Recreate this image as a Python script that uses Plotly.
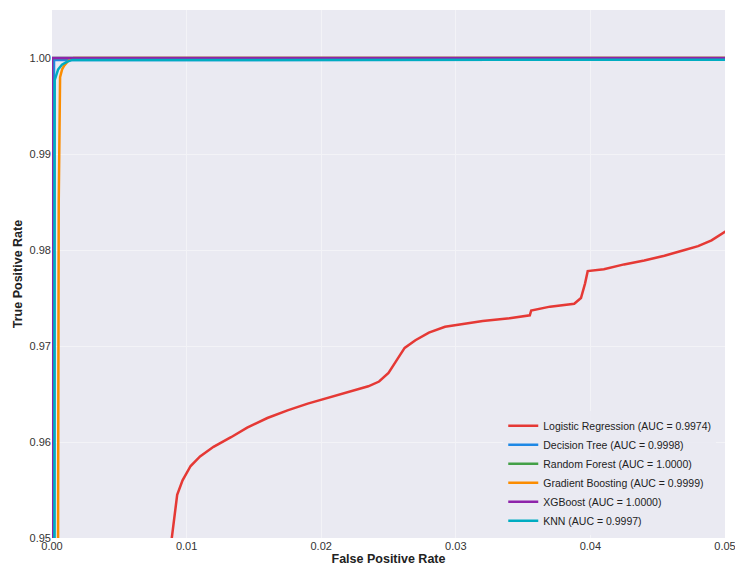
import plotly.graph_objects as go

# ---- data ----
model_names = ["Logistic Regression", "Decision Tree", "Random Forest",
               "Gradient Boosting", "XGBoost", "KNN"]
auc_values = [0.9974, 0.9998, 1.0000, 0.9999, 1.0000, 0.9997]

lr_fpr = [0.0, 0.0088, 0.0089, 0.0091, 0.0093, 0.0097, 0.0103, 0.0110, 0.0120, 0.0133,
          0.0145, 0.0160, 0.0175, 0.0190, 0.0205, 0.0220, 0.0235, 0.0243, 0.0250,
          0.0256, 0.0262, 0.0270, 0.0280, 0.0292, 0.0305, 0.0320, 0.0340, 0.0355,
          0.0356, 0.0370, 0.0388, 0.0393, 0.0396, 0.0398, 0.0410, 0.0425, 0.0440,
          0.0455, 0.0470, 0.0480, 0.0490, 0.0500, 1.0]
lr_tpr = [0.0, 0.9490, 0.9500, 0.9525, 0.9545, 0.9560, 0.9575, 0.9585, 0.9595, 0.9605,
          0.9615, 0.9625, 0.9633, 0.9640, 0.9646, 0.9652, 0.9658, 0.9663, 0.9672,
          0.9685, 0.9698, 0.9706, 0.9714, 0.9720, 0.9723, 0.9726, 0.9729, 0.9732,
          0.9737, 0.9741, 0.9744, 0.9750, 0.9765, 0.9778, 0.9780, 0.9785, 0.9789,
          0.9794, 0.9800, 0.9804, 0.9810, 0.9819, 1.0]

dt_fpr = [0.0, 0.00015, 1.0]
dt_tpr = [0.0, 0.9998, 1.0]

rf_fpr = [0.0, 0.0, 1.0]
rf_tpr = [0.0, 1.0, 1.0]

gb_fpr = [0.0, 0.00040, 0.00045, 0.00050, 0.00055, 0.00060, 0.00075, 0.0009, 0.0012, 0.0016, 1.0]
gb_tpr = [0.0, 0.9000, 0.9500, 0.9850, 0.9900, 0.9980, 0.9988, 0.9992, 0.9997, 1.0, 1.0]

xgb_fpr = [0.0, 0.0, 1.0]
xgb_tpr = [0.0, 1.0, 1.0]

knn_fpr = [0.0, 0.0002, 0.0002, 0.00045, 0.00074, 0.0011, 0.0015, 0.0020, 1.0]
knn_tpr = [0.0, 0.9500, 0.9977, 0.9988, 0.9993, 0.9996, 0.9998, 0.9998, 1.0]

x_ticks = [0.0, 0.01, 0.02, 0.03, 0.04, 0.05]
y_ticks = [0.95, 0.96, 0.97, 0.98, 0.99, 1.0]

colors = ["#E53935", "#1E88E5", "#43A047", "#FB8C00", "#8E24AA", "#00ACC1"]
fprs = [lr_fpr, dt_fpr, rf_fpr, gb_fpr, xgb_fpr, knn_fpr]
tprs = [lr_tpr, dt_tpr, rf_tpr, gb_tpr, xgb_tpr, knn_tpr]

fig = go.Figure()
for name, auc, fx, ty, c in zip(model_names, auc_values, fprs, tprs, colors):
    fig.add_trace(go.Scatter(
        x=fx, y=ty, mode="lines",
        name=f"{name} (AUC = {auc:.4f})",
        line=dict(color=c, width=2.5),
    ))

font_family = "Liberation Sans, Arial, sans-serif"
fig.update_layout(
    width=735, height=566,
    margin=dict(l=52, r=10, t=10, b=28),
    paper_bgcolor="white",
    plot_bgcolor="#EAEAF2",
    font=dict(family=font_family, size=11, color="#333333"),
    showlegend=True,
    legend=dict(
        x=0.987, y=0.005, xanchor="right", yanchor="bottom",
        bgcolor="rgba(234,234,242,0.9)",
        font=dict(size=10.5, color="#222222"),
        itemwidth=30,
        tracegroupgap=0,
    ),
    xaxis=dict(
        range=[0, 0.0500001], tickvals=x_ticks, ticktext=[f"{v:.2f}" for v in x_ticks],
        showgrid=True, gridcolor="#F3F3F7", gridwidth=1, ticklabeloverflow="allow",
        zeroline=False, showline=False, ticks="", ticklen=0, automargin=False,
        title=dict(text="<b>False Positive Rate</b>", font=dict(size=12.5, color="#222222"), standoff=2),
    ),
    yaxis=dict(
        range=[0.95, 1.005], tickvals=y_ticks, ticktext=[f"{v:.2f}" for v in y_ticks],
        showgrid=True, gridcolor="#F3F3F7", gridwidth=1, ticklabeloverflow="allow",
        zeroline=False, showline=False, ticks="", ticklen=0, automargin=False,
        title=dict(text="<b>True Positive Rate</b>", font=dict(size=12.5, color="#222222"), standoff=4),
    ),
)

fig.write_html(
    "out.html",
    config={"displayModeBar": False},
    post_script="document.body.style.margin='0px';document.body.style.overflow='hidden';",
)
